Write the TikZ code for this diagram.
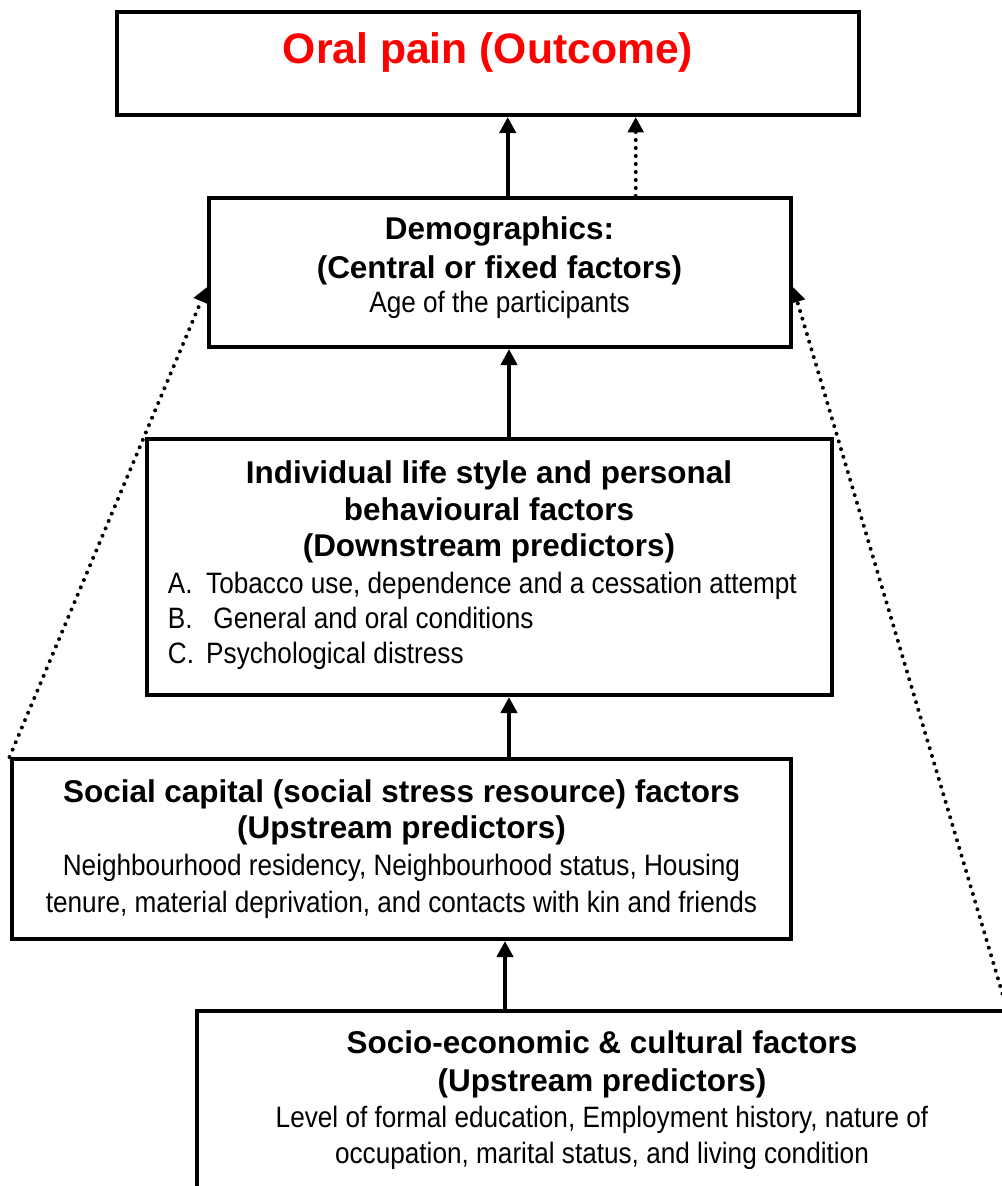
\documentclass[tikz,border=0pt]{standalone}
\usepackage{fontspec}
\setmainfont{Liberation Sans}
\newfontfamily\bodyfont{Liberation Sans}[FakeStretch=0.888]
\usetikzlibrary{arrows.meta}
\definecolor{titlered}{RGB}{255,0,0}
\tikzset{
  boxnode/.style={draw, line width=3pt, rectangle, inner sep=0pt},
  headtxt/.style={font={\fontsize{23.6pt}{#1}\selectfont\bfseries}, align=center, inner sep=0pt},
  bodytxt/.style={font={\fontsize{22.1pt}{#1}\selectfont\bodyfont}, align=center, inner sep=0pt},
  sarr/.style={line width=3pt, -{Triangle[width=12pt,length=12pt]}},
  darr/.style={line width=3pt, line cap=round, dash pattern=on 0pt off 6pt, -{Triangle[width=11.5pt,length=11.5pt]}},
}
\begin{document}
\begin{tikzpicture}[x=0.75pt, y=-0.75pt]
\path[use as bounding box] (0,0) rectangle (1002,1186);
\fill[white] (0,0) rectangle (1002,1186);
\clip (0,0) rectangle (1002,1186);

% boxes
\node[boxnode, minimum width={742*0.75pt}, minimum height={103*0.75pt}] (out) at (488,63.5) {};
\node[boxnode, minimum width={582*0.75pt}, minimum height={149*0.75pt}] (demo) at (500,272.5) {};
\node[boxnode, minimum width={685.5*0.75pt}, minimum height={256*0.75pt}] (indiv) at (489.25,567) {};
\node[boxnode, minimum width={779.5*0.75pt}, minimum height={180*0.75pt}] (social) at (401.25,849) {};
\node[boxnode, minimum width={808*0.75pt}, minimum height={189*0.75pt}] (socio) at (601,1105.5) {};

% texts
\node[inner sep=0pt, anchor=base, text=titlered, font={\fontsize{32pt}{38pt}\selectfont\bfseries}] (tTitle) at (488,63) {Oral pain (Outcome)};

\node[headtxt=28.9pt, anchor=north] (dHead) at (499.5,216.4) {Demographics:\\(Central or fixed factors)};
\node[bodytxt=27pt, anchor=base] (dBody) at (499.5,312.3) {Age of the participants};

\node[headtxt=27.5pt, anchor=north] (iHead) at (489,460.3) {Individual life style and personal\\behavioural factors\\(Downstream predictors)};
\node[bodytxt=26.25pt, align=left, anchor=north west] (iList) at (167.7,572.3)
  {\makebox[28.7pt][l]{A.}Tobacco use, dependence and a cessation attempt\\
   \makebox[28.7pt][l]{B.}\ General and oral conditions\\
   \makebox[28.7pt][l]{C.}Psychological distress};

\node[headtxt=26.9pt, anchor=north] (sHead) at (401.5,779.4) {Social capital (social stress resource) factors\\(Upstream predictors)};
\node[bodytxt=27.5pt, anchor=north] (sBody) at (401.5,854.3) {Neighbourhood residency, Neighbourhood status, Housing\\tenure, material deprivation, and contacts with kin and friends};

\node[headtxt=28.7pt, anchor=north] (eHead) at (602,1030.3) {Socio-economic \& cultural factors\\(Upstream predictors)};
\node[bodytxt=27.2pt, anchor=north] (eBody) at (602,1106) {Level of formal education, Employment history, nature of\\occupation, marital status, and living condition};

% helper coordinates
\coordinate (xA) at (507.7,0);
\coordinate (xB) at (635.7,0);
\coordinate (xC) at (509,0);
\coordinate (xD) at (505,0);
\coordinate (yL) at (0,287);

% connectors
\draw[sarr] (demo.north -| xA) -- (out.south -| xA);
\draw[darr] (demo.north -| xB) -- (out.south -| xB);
\draw[sarr] (indiv.north -| xC) -- (demo.south -| xC);
\draw[sarr] (social.north -| xC) -- (indiv.south -| xC);
\draw[sarr] (socio.north -| xD) -- (social.south -| xD);
\draw[darr] (social.north west) -- (demo.west |- yL);
\draw[darr] (socio.north east) -- (demo.east |- yL);
\end{tikzpicture}
\end{document}
